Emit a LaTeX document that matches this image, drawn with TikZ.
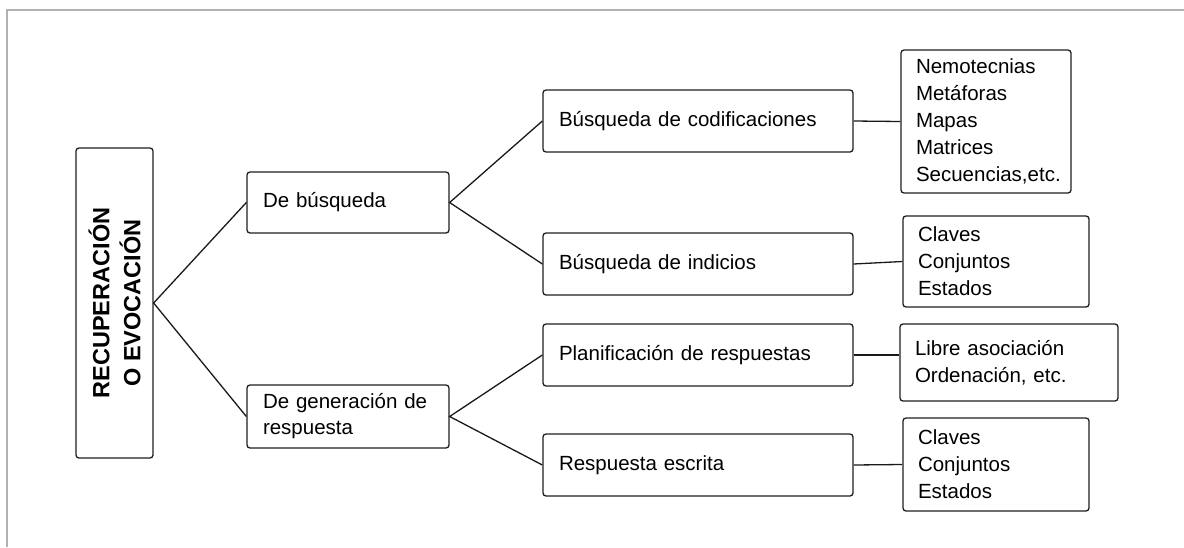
\documentclass[tikz,border=0pt]{standalone}
\usepackage{fontspec}
\setmainfont{Liberation Sans}
\begin{document}
\begin{tikzpicture}[x=1pt,y=-1pt,
  every node/.style={font=\fontsize{20.5}{27}\selectfont},
  box/.style={draw=black!88, line width=1.3pt, rounded corners=3pt, align=left,
    inner ysep=2pt, anchor=center},
  link/.style={draw=black!90, line width=1.3pt},
  frame/.style={draw=black!30, line width=2pt}]
\useasboundingbox (0,0) rectangle (1184,547);
\draw[frame] (7,547) -- (7,9.5) -- (1184,9.5);
% root
\node[box, minimum width=77pt, minimum height=310pt, inner sep=0pt] (root) at (114.5,303) {};
\node[rotate=90, align=center, font=\fontsize{23.5}{31}\selectfont\bfseries] (roottext) at (root.center) {RECUPERACIÓN\\O EVOCACIÓN};
% level 1
\node[box, minimum width=202pt, minimum height=61pt, text width=170pt, inner xsep=16pt] (bus) at (348,202.5) {De búsqueda};
\node[box, minimum width=202pt, minimum height=63pt, text width=170pt, inner xsep=16pt, font=\fontsize{20.5}{26}\selectfont] (gen) at (348,416.5) {De generación de\\respuesta};
% level 2
\node[box, minimum width=310pt, minimum height=62pt, text width=278pt, inner xsep=16pt] (cod) at (698,121) {Búsqueda de codificaciones};
\node[box, minimum width=310pt, minimum height=62pt, text width=278pt, inner xsep=16pt] (ind) at (698,264) {Búsqueda de indicios};
\node[box, minimum width=310pt, minimum height=62pt, text width=278pt, inner xsep=16pt] (pla) at (698,355) {Planificación de respuestas};
\node[box, minimum width=310pt, minimum height=62pt, text width=278pt, inner xsep=16pt] (esc) at (698,465) {Respuesta escrita};
% leaves
\node[box, minimum width=170pt, minimum height=143pt, text width=140pt, inner xsep=15pt] (l1) at (986,121.5) {Nemotecnias\\Metáforas\\Mapas\\Matrices\\Secuencias,etc.};
\node[box, minimum width=186pt, minimum height=91pt, text width=156pt, inner xsep=15pt] (l2) at (996,261.5) {Claves\\Conjuntos\\Estados};
\node[box, minimum width=218pt, minimum height=77pt, text width=188pt, inner xsep=15pt] (l3) at (1009,362.5) {Libre asociación\\Ordenación, etc.};
\node[box, minimum width=186pt, minimum height=93pt, text width=156pt, inner xsep=15pt] (l4) at (996,464.5) {Claves\\Conjuntos\\Estados};
% connectors
\draw[link] (bus.west) -- (root.east) -- (gen.west);
\draw[link] (cod.west) -- (bus.east) -- (ind.west);
\draw[link] (pla.west) -- (gen.east) -- (esc.west);
\draw[link] (cod.east) -- (l1.west);
\draw[link] (ind.east) -- (l2.west);
\draw[link] (pla.east) -- (l3.west|-pla.east);
\draw[link] (esc.east) -- (l4.west);
\end{tikzpicture}
\end{document}
